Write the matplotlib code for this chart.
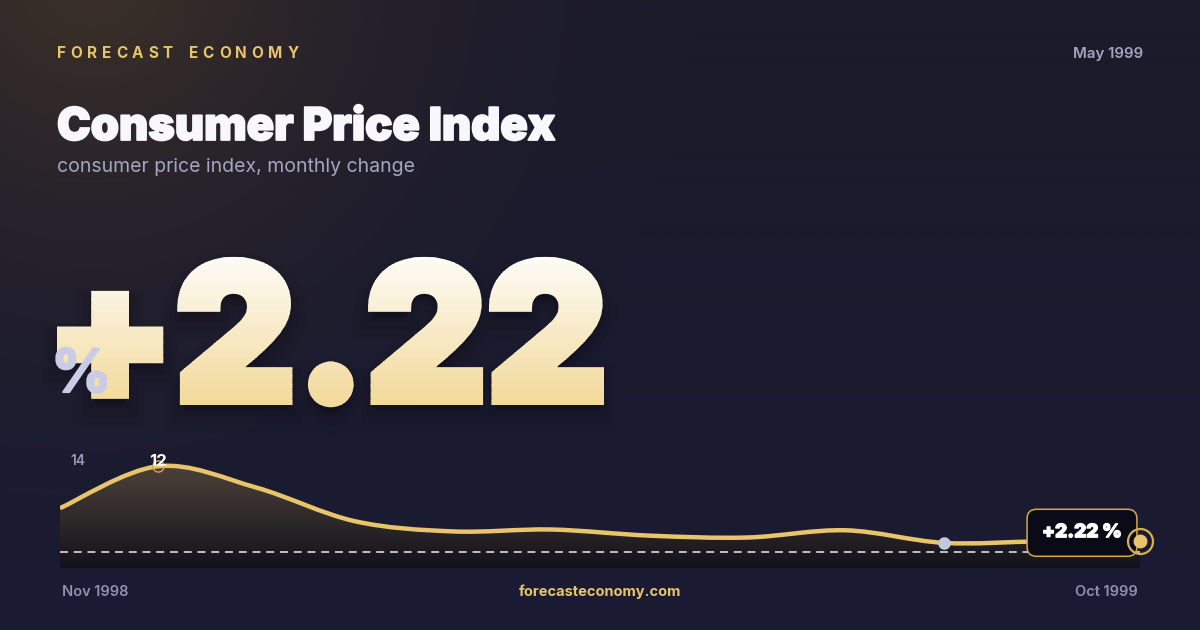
import matplotlib
matplotlib.use('Agg')
import matplotlib.pyplot as plt
import matplotlib.patheffects as pe
import numpy as np
from matplotlib.path import Path
from matplotlib.patches import PathPatch, Rectangle
from matplotlib.textpath import TextPath
from matplotlib.font_manager import FontProperties
from matplotlib.transforms import Affine2D

# data
months = ['Nov 1998', 'Dec 1998', 'Jan 1999', 'Feb 1999', 'Mar 1999', 'Apr 1999',
          'May 1999', 'Jun 1999', 'Jul 1999', 'Aug 1999', 'Sep 1999', 'Oct 1999']
cpi_change = [6.5, 12.0, 9.2, 4.8, 3.45, 3.7, 2.9, 2.65, 3.6, 1.95, 2.15, 2.22]
y_lo, y_hi = -1.35, 14
as_of = 'May 1999'

FONT = 'Inter'
GOLD = '#e8c46a'
GREY = '#9496b4'

fig = plt.figure(figsize=(12, 6.3), dpi=100)
ov = fig.add_axes([0, 0, 1, 1], zorder=0)
ov.axis('off')

# background: dark navy with warm glow top-left
H, W = 126, 240
yy, xx = np.mgrid[0:H, 0:W] * 5.0
top = np.array([0x1c, 0x1b, 0x2b]) / 255
bot = np.array([0x1a, 0x1b, 0x33]) / 255
t = (yy / 630)[..., None]
bg = top * (1 - t) + bot * t
glow = np.array([0x3e, 0x32, 0x28]) / 255
d = np.hypot(xx - 90, yy + 30) / 600
g = (np.clip(1 - d, 0, 1) ** 2)[..., None]
bg = bg * (1 - g) + glow * g
ov.imshow(bg, extent=(0, 1200, 630, 0), aspect='auto', interpolation='bilinear', zorder=0)
ov.set_xlim(0, 1200)
ov.set_ylim(630, 0)

renderer = fig.canvas.get_renderer()


def tracked(x, y, s, gap, **kw):
    for ch in s:
        if ch == ' ':
            x += gap * 2.4
            continue
        tx = ov.text(x, y, ch, **kw)
        x += tx.get_window_extent(renderer=renderer).width + gap


tracked(57, 53, 'FORECAST ECONOMY', 4.7, color=GOLD, fontsize=11, fontweight='bold',
        family=FONT, va='center', ha='left')
ov.text(1143, 54, as_of, color='#a3a5bf', fontsize=10.8, fontweight='semibold',
        family=FONT, ha='right', va='center')
ov.text(57, 140, 'Consumer Price Index', color='#f8f8fc', fontsize=32.5, fontweight='black',
        family=FONT, ha='left', va='baseline',
        path_effects=[pe.withStroke(linewidth=1.3, foreground='#f8f8fc')])
ov.text(57, 167, 'consumer price index, monthly change', color='#a4a6c2', fontsize=14,
        family=FONT, ha='left', va='center')

# headline number: thickened glyphs painted in horizontal bands for a vertical gradient
headline = f'{cpi_change[-1]:+.2f}'
fp = FontProperties(family=FONT, weight='black')
tp = TextPath((0, 0), headline, size=190, prop=fp)
ext = tp.get_extents()
stroke_px = 8
sx = (604 - 57 - stroke_px) / ext.width
tr = Affine2D().translate(-ext.x0, 0).scale(sx, -1).translate(57 + stroke_px / 2, 401)
big = tr.transform_path(tp)
bb = big.get_extents()
for lw, a, dy in [(28, 0.035, 12), (18, 0.05, 10), (10, 0.07, 8)]:
    ov.add_patch(PathPatch(Affine2D().translate(0, dy).transform_path(big), fc='black',
                           ec='black', lw=lw, alpha=a, zorder=2))
c_top = np.array([0xfd, 0xfc, 0xf8]) / 255
c_bot = np.array([0xf2, 0xd8, 0x96]) / 255
nb = 70
y0b, y1b = bb.y0 - stroke_px, bb.y1 + stroke_px
edges = np.linspace(y0b, y1b, nb + 1)
for k in range(nb):
    f = k / (nb - 1)
    col = c_top * (1 - f) + c_bot * f
    band = Rectangle((0, edges[k]), 1200, edges[k + 1] - edges[k] + 0.6,
                     transform=ov.transData)
    p = PathPatch(big, fc=col, ec=col, lw=stroke_px * 0.72, joinstyle='miter', zorder=3)
    ov.add_patch(p)
    p.set_clip_path(band)
ov.text(51, 392, '%', color='#c9cce4', fontsize=43, fontweight='bold', family=FONT,
        ha='left', va='baseline', zorder=5,
        path_effects=[pe.withStroke(linewidth=1.5, foreground='#c9cce4')])

# footer
ov.text(62, 592, months[0], color='#8f91ae', fontsize=10.5, fontweight='semibold',
        family=FONT, ha='left', va='center')
ov.text(1138, 592, months[-1], color='#8f91ae', fontsize=10.5, fontweight='semibold',
        family=FONT, ha='right', va='center')
ov.text(600, 592, 'forecasteconomy.com', color=GOLD, fontsize=10.5, fontweight='bold',
        family=FONT, ha='center', va='center')

# sparkline
ax = fig.add_axes([60 / 1200, (630 - 568) / 630, 1080 / 1200, 117 / 630], zorder=3)
ax.axis('off')
xs = np.arange(len(months))
ys = np.array(cpi_change)
n = len(xs)

verts = [(xs[0], ys[0])]
codes = [Path.MOVETO]
for i in range(n - 1):
    p0 = np.array([xs[max(i - 1, 0)], ys[max(i - 1, 0)]])
    p1 = np.array([xs[i], ys[i]])
    p2 = np.array([xs[i + 1], ys[i + 1]])
    p3 = np.array([xs[min(i + 2, n - 1)], ys[min(i + 2, n - 1)]])
    verts += [tuple(p1 + (p2 - p0) / 6), tuple(p2 - (p3 - p1) / 6), tuple(p2)]
    codes += [Path.CURVE4] * 3

area = Path(verts + [(xs[-1], y_lo), (xs[0], y_lo), (xs[0], ys[0])],
            codes + [Path.LINETO, Path.LINETO, Path.CLOSEPOLY])
area_patch = PathPatch(area, fc='none', ec='none')
ax.add_patch(area_patch)
grad = np.linspace(0, 1, 64)[:, None, None]
f_top = np.array([0x54, 0x48, 0x3d]) / 255
f_bot = np.array([0x13, 0x12, 0x1c]) / 255
fimg = f_top * (1 - grad) + f_bot * grad
fim = ax.imshow(fimg, extent=(0, n - 1, y_lo, y_hi), aspect='auto', zorder=1,
                interpolation='bilinear')
fim.set_clip_path(area_patch)
ax.set_xlim(0, n - 1)
ax.set_ylim(y_lo, y_hi)

ax.plot([0, 1], [0.137, 0.137], transform=ax.transAxes, color='#ececf2', lw=1.1,
        dashes=(5.2, 3.8), zorder=2)
ax.add_patch(PathPatch(Path(verts, codes), fill=False, ec=GOLD, lw=3.2,
                       capstyle='butt', joinstyle='round', zorder=3))

ov.text(70, 461, f'{y_hi:g}', color=GREY, fontsize=10, fontweight='semibold', family=FONT,
        ha='left', va='center', zorder=6)
ov.text(70, 547, f'{y_lo:.2f}', color=GREY, fontsize=10, fontweight='semibold',
        family=FONT, ha='left', va='center', zorder=6)

i_max = int(np.argmax(ys))
i_min = int(np.argmin(ys))
ax.plot(xs[i_max], ys[i_max], 'o', ms=8, mfc='none', mec='#d4a84a', mew=1, zorder=4)
ax.annotate(f'{ys[i_max]:.0f}', (xs[i_max], ys[i_max]), xytext=(0, 5),
            textcoords='offset pixels', ha='center', va='center', color='white',
            fontsize=12, fontweight='bold', family=FONT, zorder=5)
ax.plot(xs[i_min], ys[i_min], 'o', ms=8, color='#c3c6dc', zorder=4)

ax.plot(xs[-1], ys[-1], 'o', ms=18, mfc='none', mec='#d9ae4f', mew=1.6, zorder=6, clip_on=False)
ax.plot(xs[-1], ys[-1], 'o', ms=9, color=GOLD, zorder=6, clip_on=False)
ax.annotate(f'{ys[-1]:+.2f} %', (xs[-1], ys[-1]), xytext=(-58, 8),
            textcoords='offset pixels', ha='center', va='center', color='white',
            fontsize=13.5, fontweight='black', family=FONT, zorder=5,
            path_effects=[pe.withStroke(linewidth=0.8, foreground='white')],
            bbox=dict(boxstyle='round,pad=0.8,rounding_size=0.5', fc='#0b0b18',
                      ec='#d4a84a', lw=1.1))

fig.savefig('out.png', dpi=100)
